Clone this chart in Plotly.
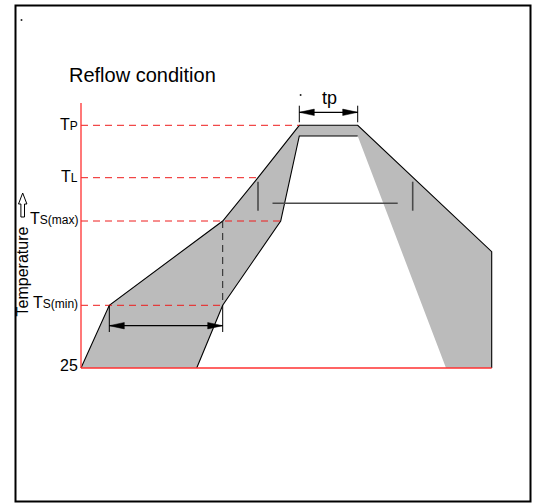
import plotly.graph_objects as go

# ---------------- data (schematic diagram units: x = time, y = temperature) -------------
level_names = ["25", "TS(min)", "TS(max)", "TL", "TP"]
level_temp = [0, 62.7, 147, 190.3, 242.7]
dash_end_time = [None, 141.7, 199.7, 177, 218.3]   # where each dashed level line stops

# outer (upper) envelope of the reflow band
upper_time = [0, 28.3, 141.7, 177, 218.3, 276.7, 410.7, 410.7]
upper_temp = [0, 62.7, 147, 190.3, 242.7, 242.7, 116.3, 0]
# inner (lower) envelope of the reflow band, starting at the cooling end on the baseline
lower_time = [365, 276.7, 218.3, 199.7, 141.7, 115.7]
lower_temp = [0, 232, 232, 147, 62.7, 0]

ts_window = [28.3, 141.7]    # preheat time window (Ts(min) -> Ts(max))
tp_window = [218.3, 276.7]   # time at peak
tl_window = [177, 331.7]     # time above liquidus

# ---------------- styles / layout constants -------------
W, H = 536, 503
X0_PX, Y0_PX = 81, 368           # pixel position of diagram origin
FONT = "Arial, 'Liberation Sans', sans-serif"
RED_DASH = "#ee1c1c"
AXIS_RED = "#ff3030"
GRAY = "#bbbbbb"
label_offsets = [2.5, 3, 3, 1.5, 1]

def px_x(px):
    return px - X0_PX

def px_y(py):
    return Y0_PX - py

fig = go.Figure()

def line(x, y, color="black", width=1.0, dash=None):
    fig.add_trace(go.Scatter(x=x, y=y, mode="lines", hoverinfo="skip", showlegend=False,
                             line=dict(color=color, width=width, dash=dash)))

# gray band
poly_x = upper_time + lower_time + [upper_time[0]]
poly_y = upper_temp + lower_temp + [upper_temp[0]]
fig.add_trace(go.Scatter(x=poly_x, y=poly_y, mode="lines", fill="toself", fillcolor=GRAY,
                         line=dict(width=0, color=GRAY), hoverinfo="skip", showlegend=False))

# outlines
line(upper_time, upper_temp, "black", 1.1)
line(lower_time[1:], lower_temp[1:], "black", 1.1)

# dashed temperature levels
dx, dy = [], []
for t, e in zip(level_temp, dash_end_time):
    if e is None:
        continue
    dx += [0, e, None]
    dy += [t, t, None]
line(dx, dy, RED_DASH, 1.0, "7px,5px")

# axes (red)
line([0, 0], [px_y(103), 0], AXIS_RED, 1.3)
line([0, upper_time[-1]], [0, 0], AXIS_RED, 1.6)

# black dashed vertical from Ts(max) down to Ts(min)
line([ts_window[1], ts_window[1]], [level_temp[2], level_temp[1]], "#222222", 1.0, "7px,5px")

shapes = []

def head(tip_x, tip_y, direction, length=15, half=3.2):
    bx = tip_x - direction * length
    shapes.append(dict(type="path", xref="x", yref="y", fillcolor="black",
                       line=dict(color="black", width=0.5),
                       path=f"M {tip_x},{tip_y} L {bx},{tip_y + half} L {bx},{tip_y - half} Z"))

# preheat window arrow
ts_arrow_y = px_y(325.7)
ts_tick_bot = px_y(332)
for tx in ts_window:
    line([tx, tx], [level_temp[1], ts_tick_bot], "black", 1.0)
line(ts_window, [ts_arrow_y, ts_arrow_y], "black", 1.3)
head(ts_window[0], ts_arrow_y, -1)
head(ts_window[1], ts_arrow_y, 1)

# tp arrow
tp_arrow_y = px_y(112.3)
for tx in tp_window:
    line([tx, tx], [px_y(105.7), px_y(122.3)], "black", 1.0)
line(tp_window, [tp_arrow_y, tp_arrow_y], "black", 1.3)
head(tp_window[0], tp_arrow_y, -1)
head(tp_window[1], tp_arrow_y, 1)

# time above liquidus marker (gray)
tl_y = px_y(203.3)
for tx in tl_window:
    line([tx, tx], [px_y(181.7), px_y(210.7)], "#4a4a4a", 1.6)
line([tl_window[0] + 14.5, tl_window[1] - 15], [tl_y, tl_y], "#4a4a4a", 1.6)

# outer frame
shapes.append(dict(type="rect", xref="x", yref="y", x0=px_x(15.5), x1=px_x(530.5),
                   y0=px_y(5.5), y1=px_y(501.5), line=dict(color="black", width=2)))

# up-arrow glyph beside "Temperature"
cx, top, hb, bot, hw, sw = px_x(22.7), px_y(193), px_y(204), px_y(217), 4.2, 1.8
shapes.append(dict(type="path", xref="x", yref="y", fillcolor="white",
                   line=dict(color="black", width=1),
                   path=(f"M {cx},{top} L {cx+hw},{hb} L {cx+sw},{hb} L {cx+sw},{bot} "
                         f"L {cx-sw},{bot} L {cx-sw},{hb} L {cx-hw},{hb} Z")))

# small stray dots
for (px, py) in [(21.5, 20), (300.6, 95)]:
    shapes.append(dict(type="rect", xref="x", yref="y", x0=px_x(px - 0.8), x1=px_x(px + 0.8),
                       y0=px_y(py - 0.8), y1=px_y(py + 0.8), fillcolor="black", line=dict(width=0)))

annotations = []
# level labels
for name, t, off in zip(level_names, level_temp, label_offsets):
    if name.startswith("T"):
        txt = f"T<span style='font-size:12px'>{name[1:]}</span>"
    else:
        txt = name
    annotations.append(dict(x=-1.5, y=t + off, xref="x", yref="y", text=txt, showarrow=False,
                            xanchor="right", yanchor="middle",
                            font=dict(family=FONT, size=16, color="black")))

annotations.append(dict(x=px_x(67), y=px_y(75), xref="x", yref="y", text="Reflow condition",
                        showarrow=False, xanchor="left", yanchor="middle",
                        font=dict(family=FONT, size=20, color="black")))
annotations.append(dict(x=sum(tp_window) / 2 + 0.5, y=px_y(98), xref="x", yref="y", text="tp",
                        showarrow=False, xanchor="center", yanchor="middle",
                        font=dict(family=FONT, size=18, color="black")))
annotations.append(dict(x=px_x(22.7), y=px_y(271.7), xref="x", yref="y", text="Temperature",
                        showarrow=False, textangle=-90, xanchor="center", yanchor="middle",
                        font=dict(family=FONT, size=16, color="black")))

fig.update_layout(
    width=W, height=H, autosize=False,
    margin=dict(l=0, r=0, t=0, b=0, pad=0),
    paper_bgcolor="white", plot_bgcolor="white",
    xaxis=dict(range=[px_x(0), px_x(W)], visible=False, fixedrange=True),
    yaxis=dict(range=[px_y(H), px_y(0)], visible=False, fixedrange=True),
    shapes=shapes, annotations=annotations, showlegend=False,
)

fig.write_html("out.html", config={"displayModeBar": False},
               post_script="document.body.style.margin='0px';document.body.style.overflow='hidden';")
